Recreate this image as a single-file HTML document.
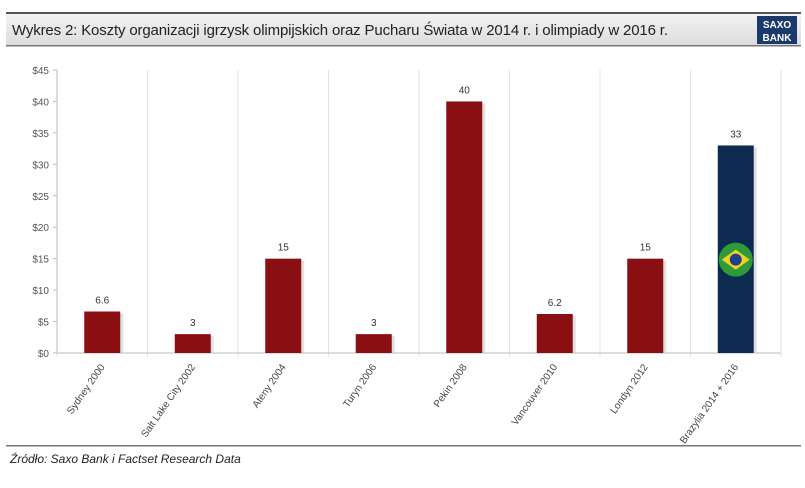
<!DOCTYPE html>
<html><head><meta charset="utf-8"><style>
body{margin:0;background:#fff;width:805px;height:483px;overflow:hidden;font-family:"Liberation Sans",sans-serif}
</style></head><body>
<svg width="805" height="483" xmlns="http://www.w3.org/2000/svg">
<defs><linearGradient id="tb" x1="0" y1="0" x2="0" y2="1"><stop offset="0" stop-color="#f4f4f4"/><stop offset="1" stop-color="#dcdcdc"/></linearGradient></defs>
<rect x="6" y="12" width="795" height="34" fill="url(#tb)"/>
<rect x="6" y="12" width="795" height="2" fill="#555"/>
<rect x="6" y="45" width="795" height="1.5" fill="#777"/>
<text x="12" y="35" font-size="15" fill="#222" textLength="656">Wykres 2: Koszty organizacji igrzysk olimpijskich oraz Pucharu Świata w 2014 r. i olimpiady w 2016 r.</text>
<g><rect x="757" y="16" width="40" height="28" fill="#1b3a6b"/>
<text x="777" y="28" font-size="10" font-weight="bold" fill="#fff" text-anchor="middle">SAXO</text>
<text x="777" y="41" font-size="10" font-weight="bold" fill="#fff" text-anchor="middle">BANK</text></g>
<g id="plot"></g>
<rect x="6" y="445" width="795" height="1.5" fill="#777"/>
<text x="10" y="463" font-size="12" font-style="italic" fill="#222">Źródło: Saxo Bank i Factset Research Data</text>
</svg>
<script>
const categories=["Sydney 2000","Salt Lake City 2002","Ateny 2004","Turyn 2006","Pekin 2008","Vancouver 2010","Londyn 2012","Brazylia 2014 + 2016"];
const values=[6.6,3,15,3,40,6.2,15,33];
const valueLabels=["6.6","3","15","3","40","6.2","15","33"];
const yTicks=[0,5,10,15,20,25,30,35,40,45];
const NS="http://www.w3.org/2000/svg";
const g=document.getElementById('plot');
const x0=57,x1=781,y0=353,y1=70,yMax=45;
const bw=(x1-x0)/categories.length;
const y=v=>y0-(v/yMax)*(y0-y1);
function mk(t,a,p){const e=document.createElementNS(NS,t);for(const k in a)e.setAttribute(k,a[k]);(p||g).appendChild(e);return e;}
for(let i=0;i<=categories.length;i++){const l=mk('line',{x1:x0+i*bw,x2:x0+i*bw,y1:y1,y2:y0+4,stroke:'#e2e2e2'});

}
yTicks.forEach(t=>{const tx=mk('text',{x:x0-8,y:y(t)+4,'font-size':10,fill:'#555','text-anchor':'end'});tx.textContent='$'+t;


mk('line',{x1:x0-4,x2:x0,y1:y(t),y2:y(t),stroke:'#bbb'});});
mk('line',{x1:x0,x2:x1,y1:y0,y2:y0,stroke:'#bbb'});
mk('line',{x1:x0,x2:x0,y1:y1,y2:y0,stroke:'#bbb'});
categories.forEach((c,i)=>{const cx=x0+bw*(i+0.5);const v=values[i];
mk('rect',{x:cx-18+3,y:y(v)+2,width:36,height:y0-y(v)-2,fill:'#ccc',opacity:0.6});
const r=mk('rect',{x:cx-18,y:y(v),width:36,height:y0-y(v),fill:i==7?'#0d2a50':'#8a0f12'});


const vl=mk('text',{x:cx,y:y(v)-8,'font-size':10,fill:'#333','text-anchor':'middle'});vl.textContent=valueLabels[i];


const xl=mk('text',{x:cx+3,y:y0+14,'font-size':10,fill:'#444','text-anchor':'end',transform:`rotate(-55 ${cx+3} ${y0+14})`});xl.textContent=c;


if(i==7){const fy=y(15)+1;mk('circle',{cx:cx,cy:fy,r:17,fill:'#2e9a3a'});
mk('polygon',{points:`${cx-14},${fy} ${cx},${fy-10} ${cx+14},${fy} ${cx},${fy+10}`,fill:'#f2d21a'});
mk('circle',{cx:cx,cy:fy,r:6,fill:'#1f3f8f'});}
});
</script>
</body></html>
